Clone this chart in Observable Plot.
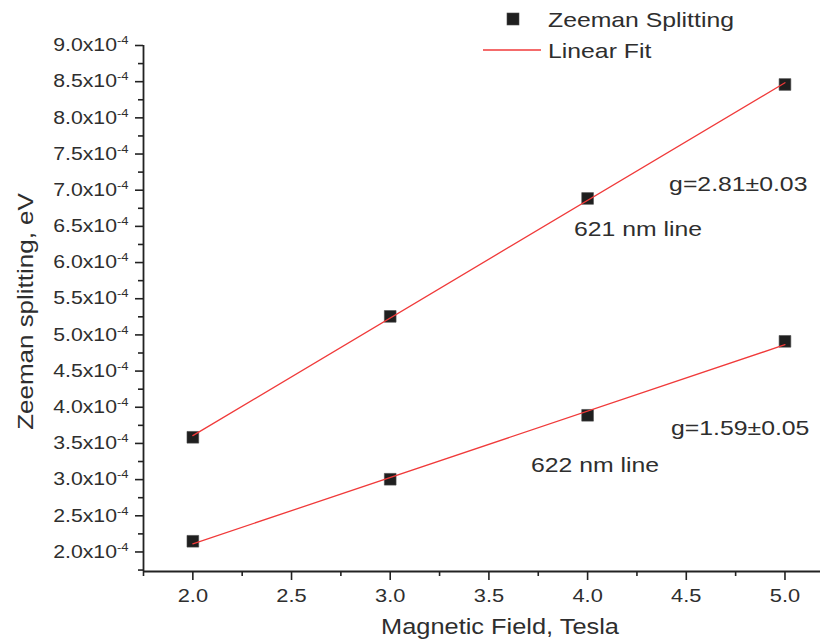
<!DOCTYPE html>
<html>
<head>
<meta charset="utf-8">
<script src="https://cdn.jsdelivr.net/npm/d3@7"></script>
<script src="https://cdn.jsdelivr.net/npm/@observablehq/plot@0.6"></script>
<style>
  body { margin: 0; background: #fff; }
  #chart { width: 823px; height: 642px; }
</style>
</head>
<body>
<div id="chart"></div>
<script>
// ---- data ----
const fields = [2.0, 3.0, 4.0, 5.0];                       // Magnetic field, Tesla
const split621 = [3.585e-4, 5.256e-4, 6.886e-4, 8.461e-4]; // Zeeman splitting, eV (621 nm line)
const split622 = [2.148e-4, 3.005e-4, 3.889e-4, 4.911e-4]; // Zeeman splitting, eV (622 nm line)
const seriesNames = ["621 nm line", "622 nm line"];
const gValues = ["g=2.81±0.03", "g=1.59±0.05"];

// axis ticks
const xTicks = [2.0, 2.5, 3.0, 3.5, 4.0, 4.5, 5.0];
const xMinorTicks = [1.75, 2.25, 2.75, 3.25, 3.75, 4.25, 4.75];
const yTicks = [2.0e-4, 2.5e-4, 3.0e-4, 3.5e-4, 4.0e-4, 4.5e-4, 5.0e-4, 5.5e-4,
                6.0e-4, 6.5e-4, 7.0e-4, 7.5e-4, 8.0e-4, 8.5e-4, 9.0e-4];
const yMinorTicks = [1.75e-4, 2.25e-4, 2.75e-4, 3.25e-4, 3.75e-4, 4.25e-4, 4.75e-4, 5.25e-4,
                     5.75e-4, 6.25e-4, 6.75e-4, 7.25e-4, 7.75e-4, 8.25e-4, 8.75e-4];
const xDomain = [1.75, 5.18];
const yDomain = [1.73e-4, 9.0e-4];

// annotation anchors (data coordinates)
const annoX = [4.413, 3.931, 4.423, 3.713];
const annoY = [6.99e-4, 6.366e-4, 3.62e-4, 3.109e-4];
const annoText = [gValues[0], seriesNames[0], gValues[1], seriesNames[1]];

// ---- build table ----
const points = [];
fields.forEach((f, i) => {
  points.push({series: seriesNames[0], field: f, split: split621[i]});
  points.push({series: seriesNames[1], field: f, split: split622[i]});
});
const annotations = annoText.map((t, i) => ({text: t, x: annoX[i], y: annoY[i]}));

const FONT = "'Liberation Sans', Arial, Helvetica, sans-serif";
const TXT = "#2e2e2e";
const AX = "#222";

const plot = Plot.plot({
  width: 823,
  height: 642,
  marginTop: 45,
  marginLeft: 143,
  marginRight: 3,
  marginBottom: 71,
  style: {fontFamily: FONT, fontSize: "18px", color: TXT, background: "#fff", overflow: "visible"},
  x: {domain: xDomain},
  y: {domain: yDomain},
  marks: [
    Plot.axisX(xTicks, {tickSize: 9, tickPadding: 8, tickFormat: d => d.toFixed(1), stroke: AX, strokeWidth: 1.6, fill: TXT, fontSize: 18.5, label: null}),
    Plot.axisX(xMinorTicks, {tickSize: 5, tickFormat: () => "", stroke: AX, strokeWidth: 1.6, label: null}),
    Plot.axisY(yTicks, {tickSize: 8, tickPadding: 7, tickFormat: d => (d * 1e4).toFixed(1) + "x10", stroke: AX, strokeWidth: 1.6, fill: TXT, fontSize: 18, label: null}),
    Plot.axisY(yMinorTicks, {tickSize: 5, tickFormat: () => "", stroke: AX, strokeWidth: 1.6, label: null}),
    Plot.ruleX([xDomain[0]], {stroke: AX, strokeWidth: 1.8}),
    Plot.ruleY([yDomain[0]], {stroke: AX, strokeWidth: 1.8}),
    Plot.dot(points, {x: "field", y: "split", symbol: "square", r: 6.6, fill: "#1f1f1f", stroke: "#4a4a4a", strokeWidth: 0.6}),
    Plot.linearRegressionY(points, {x: "field", y: "split", z: "series", ci: 0, stroke: "#f03a3a", strokeWidth: 1.3}),
    Plot.text(annotations, {x: "x", y: "y", text: "text", textAnchor: "start", lineAnchor: "bottom", fontSize: 21, fill: TXT}),
    Plot.text(["Magnetic Field, Tesla"], {frameAnchor: "bottom", textAnchor: "middle", dx: 18, dy: 62, lineAnchor: "bottom", fontSize: 21.5, fill: TXT}),
    Plot.text(["Zeeman splitting, eV"], {frameAnchor: "left", textAnchor: "middle", dx: -111, dy: 3, rotate: -90, lineAnchor: "bottom", fontSize: 22, fill: TXT})
  ]
});

document.getElementById("chart").appendChild(plot);
const svg = d3.select(plot);

// superscript exponent on the labelled y ticks
svg.selectAll('g[aria-label="y-axis tick label"] text').each(function () {
  const t = d3.select(this);
  if (t.text().length > 0) {
    t.append("tspan").attr("dy", "-7").attr("font-size", "11").text("-4");
  }
});

// legend (drawn inside the same svg)
const leg = svg.append("g").attr("font-family", FONT).attr("fill", TXT)
  .attr("font-size", 21).attr("text-anchor", "start");
leg.append("rect").attr("x", 507).attr("y", 13).attr("width", 12).attr("height", 12)
  .attr("fill", "#1f1f1f").attr("stroke", "#4a4a4a").attr("stroke-width", 0.6);
leg.append("text").attr("x", 548).attr("y", 27).text("Zeeman Splitting");
leg.append("line").attr("x1", 483).attr("x2", 541).attr("y1", 50).attr("y2", 50)
  .attr("stroke", "#f03a3a").attr("stroke-width", 1.3);
leg.append("text").attr("x", 548).attr("y", 58).text("Linear Fit");

// the reference's lettering is horizontally wider than Arial: stretch every label
plot.querySelectorAll("text").forEach(el => {
  const w = el.getComputedTextLength();
  if (w > 0) {
    el.setAttribute("textLength", (w * 1.18).toFixed(2));
    el.setAttribute("lengthAdjust", "spacingAndGlyphs");
  }
});
</script>
</body>
</html>
